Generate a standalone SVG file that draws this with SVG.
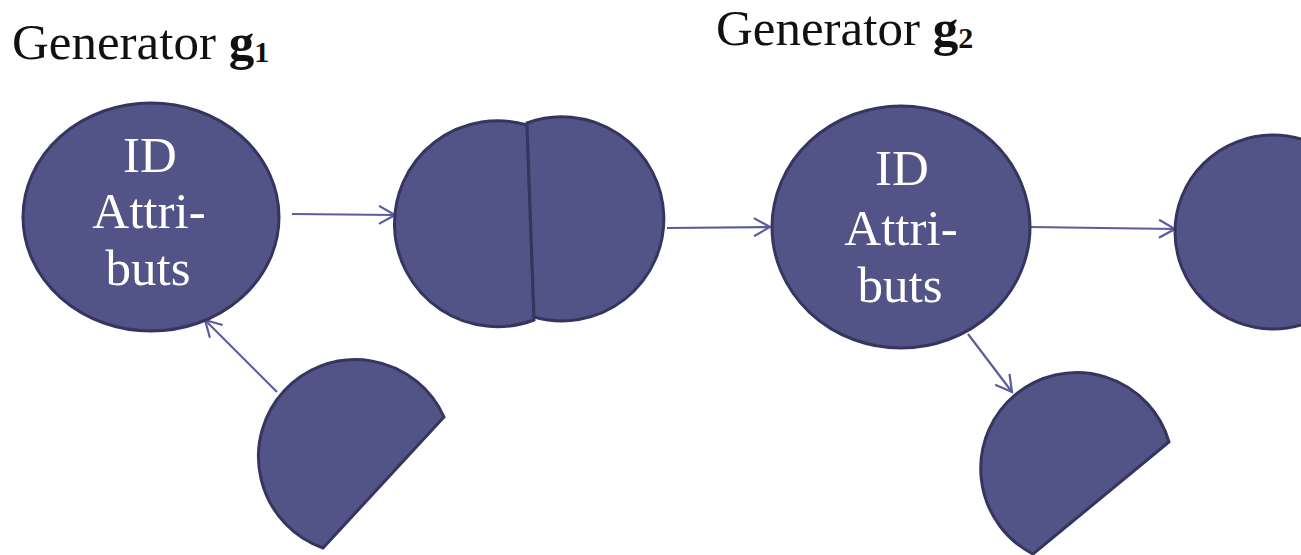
<svg xmlns="http://www.w3.org/2000/svg" width="1301" height="555" viewBox="0 0 1301 555">
<style>
.shape{fill:#525386;stroke:#35365f;stroke-width:3}
.lbl{font-family:"Liberation Serif",serif;font-size:51px;fill:#111}
.sub{font-size:30px;font-weight:bold}
.in{font-family:"Liberation Serif",serif;font-size:51px;fill:#fff;text-anchor:middle}
.con{stroke:#5a5c9c;stroke-width:2.2;fill:none;marker-end:url(#ah)}
</style>
<defs>
<marker id="ah" viewBox="0 0 20 20" refX="18" refY="10" markerWidth="20" markerHeight="20" markerUnits="userSpaceOnUse" orient="auto">
<path d="M2,1 L18,10 L2,19" fill="none" stroke="#5a5c9c" stroke-width="2.2"/>
</marker>
</defs>
<rect width="1301" height="555" fill="#fff"/>
<g id="title1"><text class="lbl" x="12" y="59">Generator <tspan font-weight="bold">g</tspan><tspan class="sub" dy="3">1</tspan></text></g>
<g id="title2"><text class="lbl" x="716" y="45">Generator <tspan font-weight="bold">g</tspan><tspan class="sub" dy="3">2</tspan></text></g>
<g id="connectors">
<line class="con" x1="292" y1="214" x2="395" y2="215"/>
<line class="con" x1="667" y1="228" x2="770" y2="227"/>
<line class="con" x1="1030" y1="227" x2="1175" y2="229"/>
<line class="con" x1="277" y1="392" x2="205" y2="320"/>
<line class="con" x1="968" y1="334" x2="1012" y2="392"/>
</g>
<g id="node-g1">
<ellipse class="shape" cx="151" cy="217" rx="128" ry="114"/>
<text class="in" x="150" y="172">ID</text>
<text class="in" x="149" y="228">Attri-</text>
<text class="in" x="148" y="285">buts</text>
</g>
<g id="node-split">
<path class="shape" d="M527,125 A103,103 0 1 0 534,320 Z"/>
<path class="shape" d="M527,123 A102,102 0 1 1 534,317 Z"/>
</g>
<g id="node-g2">
<ellipse class="shape" cx="901" cy="227" rx="129" ry="121"/>
<text class="in" x="902" y="185">ID</text>
<text class="in" x="901" y="245">Attri-</text>
<text class="in" x="900" y="302">buts</text>
</g>
<g id="node-right">
<ellipse class="shape" cx="1273" cy="232" rx="98" ry="97"/>
</g>
<g id="node-half1">
<path class="shape" d="M444,417 A97,97 0 1 0 323,548 Z"/>
</g>
<g id="node-half2">
<path class="shape" d="M1169,442 A96,96 0 1 0 1033,554 Z"/>
</g>
</svg>
